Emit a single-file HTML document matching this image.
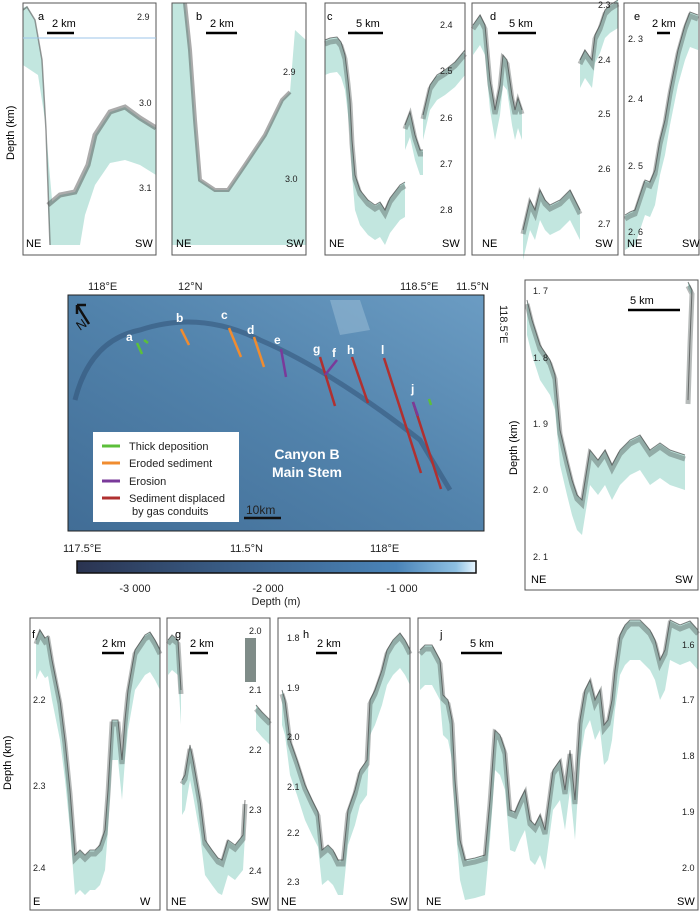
<!DOCTYPE html>
<html><head><meta charset="utf-8"><style>
body{margin:0;background:#fff;width:700px;height:914px;overflow:hidden}
svg{display:block;font-family:"Liberation Sans",Arial,sans-serif}
</style></head><body>
<svg id="s" width="700" height="914" viewBox="0 0 700 914" xmlns="http://www.w3.org/2000/svg">
<defs>
<linearGradient id="mapg" x1="0" y1="1" x2="1" y2="0">
<stop offset="0" stop-color="#416d96"/><stop offset="0.5" stop-color="#5182ab"/><stop offset="1" stop-color="#6b9cc3"/>
</linearGradient>
<linearGradient id="cb" x1="0" y1="0" x2="1" y2="0">
<stop offset="0" stop-color="#2a3350"/><stop offset="0.3" stop-color="#36557c"/><stop offset="0.8" stop-color="#4a84b8"/><stop offset="0.95" stop-color="#8ec0e2"/><stop offset="1" stop-color="#e8f6ff"/>
</linearGradient>
<clipPath id="cpa"><rect x="23" y="3" width="133" height="252"/></clipPath>
<clipPath id="cpb"><rect x="172" y="3" width="134" height="252"/></clipPath>
</defs>
<g id="data"></g>
<g fill="#c2e6df" stroke="none">
<g clip-path="url(#cpa)">
<polygon points="23,8 27,6 35,20 42,60 46,130 50,245 56,245 45,120 38,75 23,65"/>
<polygon points="48,205 60,195 75,192 88,165 95,135 110,112 125,107 140,118 156,128 156,175 140,165 125,160 110,163 95,185 85,215 80,245 50,245"/>
<polyline points="23,10 27,7 35,20 42,60 46,130 50,245" fill="none" stroke="#555" stroke-width="1.5" opacity="0.6"/>
<polyline points="48,205 60,195 75,192 88,165 95,135 110,112 125,107 140,118 156,128" fill="none" stroke="#444" stroke-width="5" opacity="0.45"/>
</g>
<g clip-path="url(#cpb)">
<polygon points="172,3 185,3 190,50 195,120 200,180 215,190 228,190 245,165 265,135 282,100 290,92 295,30 306,40 306,245 172,245 172,130"/>
<polyline points="185,3 190,50 195,120 200,180 215,190 228,190 245,165 265,135 282,100 290,92" fill="none" stroke="#444" stroke-width="4" opacity="0.45"/>
</g>
</g>
<rect x="245" y="638" width="11" height="44" fill="#7f8c88"/>
<!-- frames -->
<g fill="none" stroke="#555" stroke-width="1">
<rect x="23" y="3" width="133" height="252"/>
<rect x="172" y="3" width="134" height="252"/>
<rect x="325" y="3" width="140" height="252"/>
<rect x="472" y="3" width="146" height="252"/>
<rect x="624" y="3" width="75" height="252"/>
<rect x="525" y="280" width="173" height="310"/>
<rect x="30" y="618" width="130" height="292"/>
<rect x="167" y="618" width="103" height="292"/>
<rect x="278" y="618" width="132" height="292"/>
<rect x="418" y="618" width="280" height="292"/>
</g>
<line x1="23" y1="38" x2="156" y2="38" stroke="#9cc6e8" stroke-width="1"/>
<g stroke="#000" stroke-width="2.5">
<line x1="47" y1="33" x2="74" y2="33"/><line x1="206" y1="33" x2="237" y2="33"/>
<line x1="348" y1="33" x2="383" y2="33"/><line x1="498" y1="33" x2="536" y2="33"/>
<line x1="657" y1="33" x2="670" y2="33"/><line x1="628" y1="310" x2="680" y2="310"/>
<line x1="102" y1="653" x2="124" y2="653"/><line x1="190" y1="653" x2="208" y2="653"/>
<line x1="316" y1="653" x2="337" y2="653"/><line x1="461" y1="653" x2="502" y2="653"/>
</g>
<g font-size="11" fill="#000">
<text x="38" y="20">a</text><text x="52" y="27">2 km</text>
<text x="196" y="20">b</text><text x="210" y="27">2 km</text>
<text x="327" y="20">c</text><text x="356" y="27">5 km</text>
<text x="490" y="20">d</text><text x="509" y="27">5 km</text>
<text x="634" y="20">e</text><text x="652" y="27">2 km</text>
<text x="26" y="247">NE</text><text x="135" y="247">SW</text>
<text x="176" y="247">NE</text><text x="286" y="247">SW</text>
<text x="329" y="247">NE</text><text x="442" y="247">SW</text>
<text x="482" y="247">NE</text><text x="595" y="247">SW</text>
<text x="627" y="247">NE</text><text x="682" y="247">SW</text>
<text x="630" y="304">5 km</text>
<text x="531" y="583">NE</text><text x="675" y="583">SW</text>
<text x="32" y="638">f</text><text x="102" y="647">2 km</text>
<text x="175" y="638">g</text><text x="190" y="647">2 km</text>
<text x="303" y="638">h</text><text x="317" y="647">2 km</text>
<text x="440" y="638">j</text><text x="470" y="647">5 km</text>
<text x="33" y="905">E</text><text x="140" y="905">W</text>
<text x="171" y="905">NE</text><text x="251" y="905">SW</text>
<text x="281" y="905">NE</text><text x="390" y="905">SW</text>
<text x="426" y="905">NE</text><text x="677" y="905">SW</text>
</g>
<g font-size="9" fill="#222">
<text x="137" y="20">2.9</text><text x="139" y="106">3.0</text><text x="139" y="191">3.1</text>
<text x="283" y="75">2.9</text><text x="285" y="182">3.0</text>
<text x="440" y="28">2.4</text><text x="440" y="74">2.5</text><text x="440" y="121">2.6</text><text x="440" y="167">2.7</text><text x="440" y="213">2.8</text>
<text x="598" y="8">2.3</text><text x="598" y="63">2.4</text><text x="598" y="117">2.5</text><text x="598" y="172">2.6</text><text x="598" y="227">2.7</text>
<text x="628" y="42">2. 3</text><text x="628" y="102">2. 4</text><text x="628" y="169">2. 5</text><text x="628" y="235">2. 6</text>
<text x="533" y="294">1. 7</text><text x="533" y="361">1. 8</text><text x="533" y="427">1. 9</text><text x="533" y="493">2. 0</text><text x="533" y="560">2. 1</text>
<text x="33" y="703">2.2</text><text x="33" y="789">2.3</text><text x="33" y="871">2.4</text>
<text x="249" y="634">2.0</text><text x="249" y="693">2.1</text><text x="249" y="753">2.2</text><text x="249" y="813">2.3</text><text x="249" y="874">2.4</text>
<text x="287" y="641">1.8</text><text x="287" y="691">1.9</text><text x="287" y="740">2.0</text><text x="287" y="790">2.1</text><text x="287" y="836">2.2</text><text x="287" y="885">2.3</text>
<text x="682" y="648">1.6</text><text x="682" y="703">1.7</text><text x="682" y="759">1.8</text><text x="682" y="815">1.9</text><text x="682" y="871">2.0</text>
</g>
<g font-size="11" fill="#000">
<text transform="translate(14,160) rotate(-90)">Depth (km)</text>
<text transform="translate(517,475) rotate(-90)">Depth (km)</text>
<text transform="translate(11,790) rotate(-90)">Depth (km)</text>
</g>
<!-- map -->
<rect x="68" y="295" width="416" height="236" fill="url(#mapg)"/>
<path d="M75,400 Q90,340 140,330 Q200,310 260,340 Q330,370 420,440 L450,490" fill="none" stroke="#2d4e72" stroke-width="5" opacity="0.5"/>
<path d="M330,300 L360,300 L370,330 L340,335 Z" fill="#9dbfd8" opacity="0.5"/>
<rect x="68" y="295" width="416" height="236" fill="none" stroke="#222" stroke-width="1"/>
<g stroke-width="2.5">
<line x1="137" y1="343" x2="142" y2="354" stroke="#5cbf3a"/><line x1="144" y1="340" x2="148" y2="343" stroke="#5cbf3a"/>
<line x1="181" y1="329" x2="189" y2="345" stroke="#f08c30"/>
<line x1="229" y1="328" x2="241" y2="357" stroke="#f08c30"/>
<line x1="254" y1="337" x2="264" y2="367" stroke="#f08c30"/>
<line x1="281" y1="349" x2="286" y2="377" stroke="#7a3a9a"/>
<line x1="320" y1="357" x2="335" y2="406" stroke="#b03030"/>
<line x1="325" y1="375" x2="337" y2="360" stroke="#7a3a9a"/>
<line x1="352" y1="357" x2="368" y2="403" stroke="#b03030"/>
<line x1="384" y1="358" x2="421" y2="473" stroke="#b03030"/>
<line x1="413" y1="402" x2="441" y2="489" stroke="#b03030"/>
<line x1="413" y1="402" x2="418" y2="416" stroke="#7a3a9a"/>
<line x1="429" y1="399" x2="431" y2="405" stroke="#5cbf3a"/>
</g>
<g fill="#fff" font-size="12" font-weight="bold">
<text x="126" y="341">a</text><text x="176" y="322">b</text><text x="221" y="319">c</text><text x="247" y="334">d</text>
<text x="274" y="344">e</text><text x="313" y="353">g</text><text x="332" y="357">f</text><text x="347" y="354">h</text>
<text x="381" y="354">l</text><text x="411" y="393">j</text>
<text x="307" y="459" text-anchor="middle" font-size="14">Canyon B</text>
<text x="307" y="477" text-anchor="middle" font-size="14">Main Stem</text>
</g>
<path d="M77,305 L89,324 M77,305 L77,314 M77,305 L86,305" stroke="#111" stroke-width="2.5" fill="none"/>
<text x="80" y="331" font-size="13" fill="#111" transform="rotate(-35 80 331)">N</text>
<rect x="93" y="432" width="146" height="90" fill="#fff"/>
<g stroke-width="3">
<line x1="102" y1="446" x2="120" y2="446" stroke="#5cbf3a"/>
<line x1="102" y1="463" x2="120" y2="463" stroke="#f08c30"/>
<line x1="102" y1="481" x2="120" y2="481" stroke="#7a3a9a"/>
<line x1="102" y1="498" x2="120" y2="498" stroke="#b03030"/>
</g>
<g font-size="11" fill="#222">
<text x="129" y="450">Thick deposition</text><text x="129" y="467">Eroded sediment</text>
<text x="129" y="485">Erosion</text><text x="129" y="502">Sediment displaced</text><text x="132" y="515">by gas conduits</text>
<text x="246" y="514" font-size="12">10km</text>
</g>
<line x1="244" y1="518" x2="281" y2="518" stroke="#111" stroke-width="2.5"/>
<g font-size="11" fill="#222">
<text x="88" y="290">118°E</text><text x="178" y="290">12°N</text><text x="400" y="290">118.5°E</text><text x="456" y="290">11.5°N</text>
<text x="63" y="552">117.5°E</text><text x="230" y="552">11.5°N</text><text x="370" y="552">118°E</text>
<text transform="translate(500,305) rotate(90)">118.5°E</text>
</g>
<rect x="77" y="561" width="399" height="12" fill="url(#cb)" stroke="#111" stroke-width="1.5"/>
<g font-size="11" fill="#222" text-anchor="middle">
<text x="135" y="592">-3 000</text><text x="268" y="592">-2 000</text><text x="402" y="592">-1 000</text>
<text x="276" y="605">Depth (m)</text>
</g>
</svg>
<script>
var segs=[
[35,"325,40 330,38 337,37 341,42 345,55 348,80 350,100 352,140 355,175 360,190 368,200 375,205 380,202 385,210 390,198 400,185 405,182"],
[25,"405,125 410,112 415,135 420,150 423,150"],
[25,"423,115 430,85 437,75 445,70 455,62 465,50"],
[30,"473,25 480,15 485,25 490,80 495,110 500,85 503,55 507,60 512,95 515,110 518,98 522,110"],
[30,"523,230 530,200 535,210 540,190 545,200 550,205 560,200 570,190 575,200 580,210"],
[28,"580,60 585,50 592,60 595,35 600,25 605,10 610,5 618,0"],
[35,"625,215 630,212 635,210 640,195 645,180 650,182 655,170 660,140 665,120 670,90 678,50 685,25 690,12 698,15"],
[40,"36,640 40,630 45,638 48,636 52,660 60,700 65,740 70,790 75,855 80,850 85,855 90,850 95,850 100,845 105,830 108,790 112,720 118,720 122,760 125,720 128,690 135,650 145,635 150,632 155,640 160,650"],
[35,"168,640 172,635 178,640 181,690"],
[35,"182,780 185,775 190,745 193,760 200,800 205,840 212,850 218,858 222,860 228,840 235,845 243,835 245,800"],
[25,"256,705 262,712 270,720"],
[35,"282,690 285,700 290,740 297,760 305,785 312,800 318,812 322,850 328,845 333,850 338,860 343,860 348,810 355,790 360,770 367,760 370,700 375,690 382,670 387,650 393,640 400,633 405,640 410,650"],
[40,"420,650 425,645 432,645 440,660 443,695 448,700 452,720 455,780 460,840 465,860 475,858 485,855 490,800 495,730 500,735 505,750 510,810 515,812 520,800 525,790 530,820 535,825 540,815 545,830 553,770 560,760 565,790 570,750 575,800 580,720 585,690 590,680 595,700 600,690 604,725 608,720 612,700 615,670 620,635 625,625 630,620 640,620 650,630 655,640 660,660 665,650 670,620 680,625 690,621 698,630"],
[35,"527,300 532,320 540,345 550,360 555,375 560,430 567,460 572,480 577,495 582,500 590,450 598,460 605,450 612,465 620,450 630,440 640,435 650,450 660,443 670,450 685,455"],
[6,"688,282 692,290 690,340 688,400"]
];
var g=document.getElementById("data"),ns="http://www.w3.org/2000/svg";
segs.forEach(function(s){
 var t=s[0],pts=s[1].split(" ").map(function(p){return p.split(",").map(Number)});
 var bot=pts.slice().reverse().map(function(p){return p[0]+","+(p[1]+t)});
 var poly=document.createElementNS(ns,"polygon");
 poly.setAttribute("points",pts.map(function(p){return p.join(",")}).concat(bot).join(" "));
 poly.setAttribute("fill","#c2e6df");g.appendChild(poly);
 var l2=document.createElementNS(ns,"polyline");
 l2.setAttribute("points",pts.map(function(p){return p[0]+","+(p[1]+4)}).join(" "));
 l2.setAttribute("fill","none");l2.setAttribute("stroke","#4a5553");l2.setAttribute("stroke-width","5");l2.setAttribute("opacity","0.4");g.appendChild(l2);
 var l=document.createElementNS(ns,"polyline");
 l.setAttribute("points",s[1]);l.setAttribute("fill","none");l.setAttribute("stroke","#333");l.setAttribute("stroke-width","1");l.setAttribute("opacity","0.6");g.appendChild(l);
});
</script>
</body></html>
